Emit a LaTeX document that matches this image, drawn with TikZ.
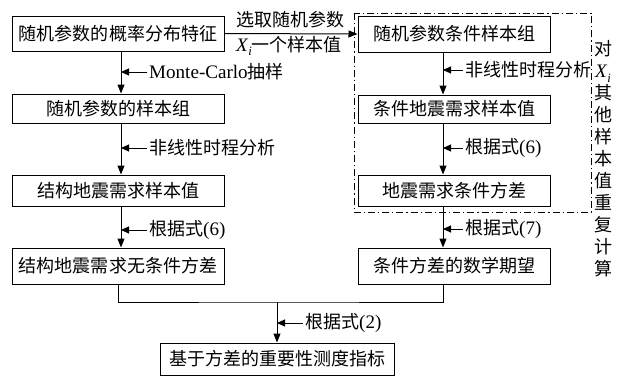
\documentclass[tikz,border=0pt]{standalone}
\usepackage{fontspec}
\setmainfont{Noto Sans CJK SC}
\newfontfamily\lat[Scale=1.06]{Liberation Serif}
\usetikzlibrary{arrows.meta}
\newcommand\XiSym{{\lat\textit{X}\raisebox{-0.22em}{\fontsize{12}{12}\selectfont\lat\textit{i}}}}
\begin{document}
\begin{tikzpicture}[x=1pt,y=-1pt,
  every node/.style={font=\fontsize{18}{22}\selectfont},
  box/.style={draw, line width=1pt, inner sep=0pt},
  arr/.style={line width=1pt, -{Triangle[length=9pt,width=7pt]}},
  larr/.style={line width=1pt, -{Triangle[length=8pt,width=7pt]}},
  ln/.style={line width=1pt},
  lbl/.style={anchor=west, inner sep=2pt},
  dd/.style={line width=0.9pt, dash pattern=on 7pt off 3pt on 1.2pt off 3pt}]
\useasboundingbox (0,0) rectangle (624,378);
% left column
\node[box, minimum width=212pt, minimum height=35pt] (L1) at (118,33.5) {随机参数的概率分布特征};
\node[box, minimum width=212pt, minimum height=29pt] (L2) at (118,108.5) {随机参数的样本组};
\node[box, minimum width=212pt, minimum height=31pt] (L3) at (118,190.5) {结构地震需求样本值};
\node[box, minimum width=212pt, minimum height=36pt] (L4) at (118,266) {结构地震需求无条件方差};
% right column
\node[box, minimum width=192pt, minimum height=36pt] (R1) at (454,34) {随机参数条件样本组};
\node[box, minimum width=192pt, minimum height=28pt] (R2) at (454,109) {条件地震需求样本值};
\node[box, minimum width=192pt, minimum height=31pt] (R3) at (454,190.5) {地震需求条件方差};
\node[box, minimum width=192pt, minimum height=36pt] (R4) at (454,266) {条件方差的数学期望};
% bottom
\node[box, minimum width=234pt, minimum height=32pt] (B) at (277,359) {基于方差的重要性测度指标};
% arrow axes
\coordinate (lx) at (121,0);
\coordinate (rx) at (443,0);
\coordinate (m) at (277,302);
% main arrows
\draw[arr] (L1.south -| lx) -- (L2.north -| lx);
\draw[arr] (L2.south -| lx) -- (L3.north -| lx);
\draw[arr] (L3.south -| lx) -- (L4.north -| lx);
\draw[arr] (R1.south -| rx) -- (R2.north -| rx);
\draw[arr] (R2.south -| rx) -- (R3.north -| rx);
\draw[arr] (R3.south -| rx) -- (R4.north -| rx);
\draw[arr] (L1.east) -- (R1.west);
\draw[ln] (L4.south) |- (m) -| (R4.south -| rx);
\draw[arr] (m) -- (B.north);
% top labels
\node (t1) at (290,20) {选取随机参数};
\node (t2) at (289,46) {\XiSym 一个样本值};
% side labels
\node[lbl] (a1) at (147,72) {{\lat Monte-Carlo}抽样};
\node[lbl] (a2) at (147,148) {非线性时程分析};
\node[lbl] (a3) at (147,230) {根据式{\lat(6)}};
\node[lbl] (a4) at (463,70) {非线性时程分析};
\node[lbl] (a5) at (463,148) {根据式{\lat(6)}};
\node[lbl] (a6) at (463,229) {根据式{\lat(7)}};
\node[lbl] (a7) at (303,323) {根据式{\lat(2)}};
\draw[larr] (a1.west) -- (a1.west -| lx);
\draw[larr] (a2.west) -- (a2.west -| lx);
\draw[larr] (a3.west) -- (a3.west -| lx);
\draw[larr] (a4.west) -- (a4.west -| rx);
\draw[larr] (a5.west) -- (a5.west -| rx);
\draw[larr] (a6.west) -- (a6.west -| rx);
\draw[larr] (a7.west) -- (a7.west -| m);
% dash-dot frame
\draw[dd] (354,13) rectangle (591,212);
% vertical text
\node[align=center, inner sep=0pt] (vt) at (603,159) {对\\\XiSym\\其\\他\\样\\本\\值\\重\\复\\计\\算};
\end{tikzpicture}
\end{document}
